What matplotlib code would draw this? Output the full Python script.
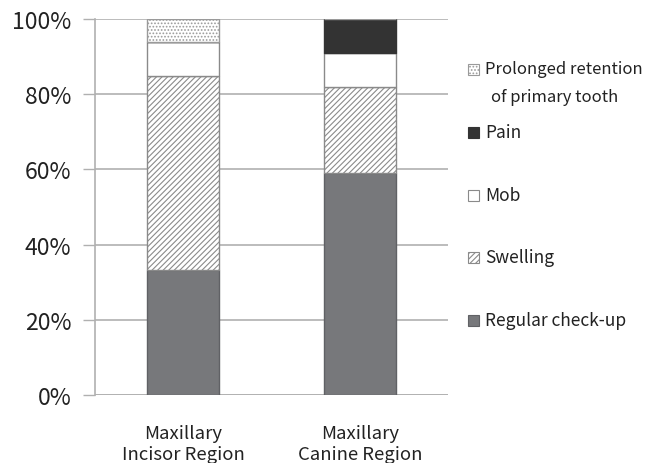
import matplotlib
matplotlib.use("Agg")
import matplotlib.pyplot as plt
from matplotlib.patches import Rectangle
import numpy as np

plt.rcParams['font.family'] = ['Noto Sans CJK KR', 'DejaVu Sans']
plt.rcParams['hatch.linewidth'] = 0.8

categories = ["Maxillary\nIncisor Region", "Maxillary\nCanine Region"]
series_names = ["Regular check-up", "Swelling", "Mob", "Pain",
                "Prolonged retention\nof primary tooth"]
regular = [33.3, 59.1]
swelling = [51.5, 22.7]
mob = [9.1, 9.1]
pain = [0.0, 9.1]
prolonged = [6.1, 0.0]
yticks = [0, 20, 40, 60, 80, 100]
ytick_labels = ["0%", "20%", "40%", "60%", "80%", "100%"]

values = [regular, swelling, mob, pain, prolonged]
styles = [
    dict(facecolor="#77787b", edgecolor="#606165", hatch=None),
    dict(facecolor="white", edgecolor="#8a8a8a", hatch="//////"),
    dict(facecolor="white", edgecolor="#8a8a8a", hatch=None),
    dict(facecolor="#333333", edgecolor="#333333", hatch=None),
    dict(facecolor="white", edgecolor="#9a9a9a", hatch="....."),
]

fig = plt.figure(figsize=(6.45, 4.64), dpi=100)
ax = fig.add_axes([95/645, 1-396/464, (448-95)/645, (396-20)/464])

x = np.arange(len(categories))
bottom = np.zeros(len(categories))
for vals, st in zip(values, styles):
    v = np.array(vals)
    ax.bar(x, v, width=0.408, bottom=bottom, facecolor=st["facecolor"],
           edgecolor=st["edgecolor"], hatch=st["hatch"], linewidth=1.0, zorder=3)
    bottom += v

ax.set_xlim(-0.5, 1.5)
ax.set_ylim(0, 100)
ax.set_yticks(yticks)
ax.set_yticklabels(ytick_labels, fontsize=16.5, color="#222222")
ax.set_xticks(x)
ax.set_xticklabels(categories, fontsize=13.3, color="#222222", linespacing=1.22)
ax.tick_params(axis='y', length=9, width=1, color="#b0b0b0", pad=8)
ax.tick_params(axis='x', length=0, pad=21)
ax.yaxis.grid(True, color="#b0b0b0", linewidth=1.2, zorder=0)
for s in ["top", "right", "bottom"]:
    ax.spines[s].set_visible(False)
ax.spines["left"].set_color("#b0b0b0")
ax.spines["left"].set_linewidth(1.2)
ax.axhline(0, color="#b0b0b0", linewidth=1.2, zorder=2)

# legend (top = last series)
leg_rows_y = [321, 258, 196, 133, 70]
for name, st, yy in zip(series_names, styles, leg_rows_y):
    r = Rectangle(((468)/645, 1-(yy+5.5)/464), 11/645, 11/464, transform=fig.transFigure,
                  facecolor=st["facecolor"], edgecolor=st["edgecolor"],
                  hatch=st["hatch"], linewidth=0.8)
    fig.patches.append(r)
    if "\n" in name:
        fig.text(485/645, 1-yy/464, name.split("\n")[0], fontsize=12,
                 va="center", ha="left", color="#222222")
        fig.text(491/645, 1-(yy+28)/464, name.split("\n")[1], fontsize=12,
                 va="center", ha="left", color="#222222")
    else:
        fig.text(485/645, 1-yy/464, name, fontsize=12.5, va="center", ha="left",
                 color="#222222")

fig.savefig("out.png", dpi=100)
